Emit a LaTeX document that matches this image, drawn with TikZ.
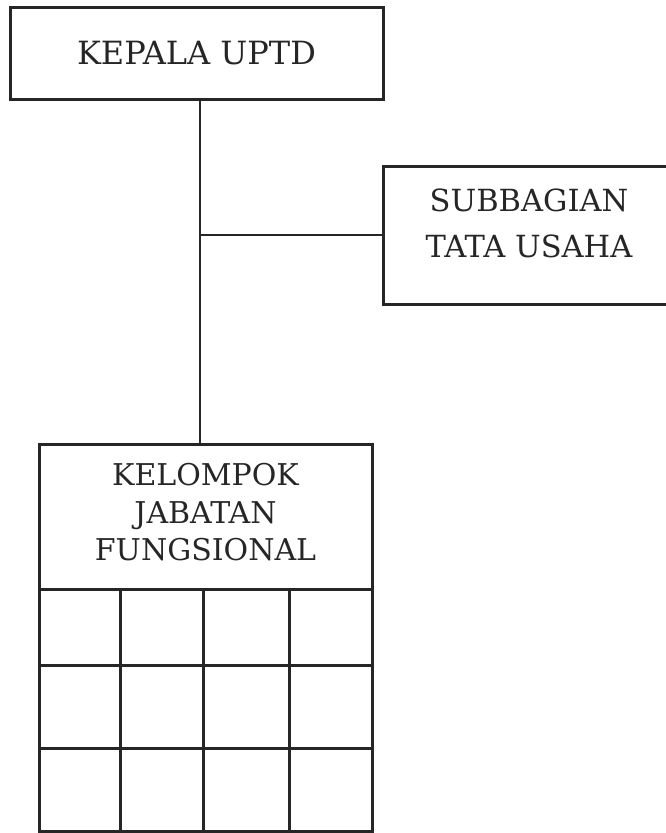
\documentclass[tikz,border=0pt]{standalone}
\usepackage{tikz}
\usepackage{fontspec}
\setmainfont{DejaVu Serif}
\usetikzlibrary{positioning}
\colorlet{ink}{black!85}
\tikzset{
  unitbox/.style={draw=ink, line width=3pt, inner sep=0pt},
  unittext/.style={align=center, inner sep=0pt, text=ink},
  linkline/.style={draw=ink, line width=2pt}
}

\begin{document}
\begin{tikzpicture}[x=1pt,y=-1pt]
\useasboundingbox (0,0) rectangle (666,833);
\clip (0,0) rectangle (666,833);

% kepala
\node[unitbox, unittext, minimum width=373, minimum height=92,
  font=\fontsize{32}{38}\selectfont] (kepala) at (196.5,53) {KEPALA UPTD};

% subbagian
\node[unitbox, minimum width=292, minimum height=138] (subbag) at (529,235) {};
\node[unittext, font=\fontsize{30.5}{46}\selectfont] (subbagtxt) at (529,223.5)
  {SUBBAGIAN\\TATA USAHA};

% kelompok jabatan fungsional
\node[unitbox, minimum width=333, minimum height=145] (fung) at (205.5,516.5) {};
\node[unittext, font=\fontsize{30}{37.5}\selectfont] (fungtxt) at (205.5,512.5)
  {KELOMPOK\\JABATAN\\FUNGSIONAL};

\foreach \y in {665,748,831}
  \draw[ink, line width=3pt] (fung.south west |- 0,\y) -- (fung.south east |- 0,\y);
\foreach \x in {39,120,203,289,372}
  \draw[ink, line width=3pt] (\x,589) -- (\x,831);

% garis
\coordinate (spine) at (200,0);
\draw[linkline] (spine |- kepala.south) -- (spine |- fung.north);
\draw[linkline] (spine |- subbag.west) -- (subbag.west);
\end{tikzpicture}
\end{document}
